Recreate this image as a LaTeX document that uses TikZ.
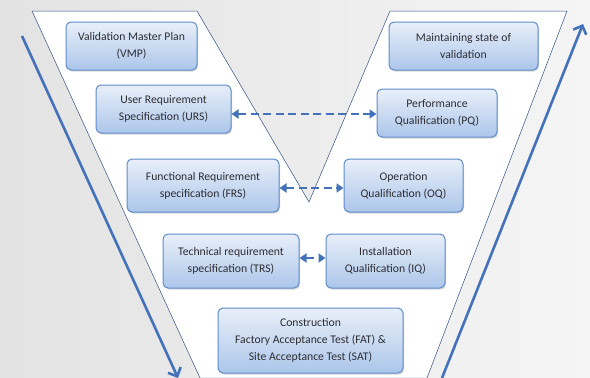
\documentclass[tikz,border=0pt]{standalone}
\usepackage{fontspec}
\setmainfont{Carlito}
\usetikzlibrary{arrows.meta,shadows}

\definecolor{vblue}{RGB}{68,114,186}
\definecolor{boxline}{RGB}{95,140,200}
\definecolor{boxtop}{RGB}{232,239,249}
\definecolor{boxbot}{RGB}{172,198,234}
\definecolor{vtext}{RGB}{45,45,50}

\tikzset{
  stage/.style={draw=boxline, line width=1pt, rounded corners=5pt,
    top color=boxtop, bottom color=boxbot, align=center,
    text=vtext, font=\fontsize{11.7}{17}\selectfont, inner sep=1pt,
    drop shadow={shadow xshift=1pt, shadow yshift=-1.5pt, opacity=0.3}},
  linkarrow/.style={draw=vblue, line width=2.6pt, dash pattern=on 8pt off 4.5pt,
    {Triangle[length=7pt,width=9pt]}-{Triangle[length=7pt,width=9pt]}},
  flowarrow/.style={draw=vblue, line width=2.6pt,
    -{Straight Barb[length=7pt,width=14pt,line width=2.6pt]}}
}

\begin{document}
\begin{tikzpicture}[x=1pt,y=-1pt]
        \useasboundingbox (0,0) rectangle (590,378);
        \fill[left color=gray!22, right color=gray!8] (0,0) rectangle (590,378);
        % V frame
        \draw[fill=white, draw=vblue!70!black, line width=0.5pt]
            (32,11) -- (197,11) -- (309,202) -- (390,11) -- (567,11)
            -- (427,378) -- (200,378) -- cycle;
        % side arrows
        \coordinate (dn0) at (22,36);
        \coordinate (dn1) at (178,378);
        \coordinate (up0) at (442,378);
        \coordinate (up1) at (583,24);
        \draw[flowarrow] (dn0) -- (dn1);
        \draw[flowarrow] (up0) -- (up1);
        % stages
        \node[stage, minimum width=131, minimum height=48] (vmp) at (131.5,46) {Validation Master Plan\\(VMP)};
        \node[stage, minimum width=135, minimum height=48] (urs) at (163.5,109) {User Requirement\\Specification (URS)};
        \node[stage, minimum width=152, minimum height=53] (frs) at (203,185.5) {Functional Requirement\\specification (FRS)};
        \node[stage, minimum width=136, minimum height=54] (trs) at (231,261) {Technical requirement\\specification (TRS)};
        \node[stage, minimum width=185, minimum height=65] (cons) at (310.5,340.5) {Construction\\Factory Acceptance Test (FAT) \&\\Site Acceptance Test (SAT)};
        \node[stage, minimum width=119, minimum height=54] (iq) at (385.5,261) {Installation\\Qualification (IQ)};
        \node[stage, minimum width=119, minimum height=53] (oq) at (403.5,185.5) {Operation\\Qualification (OQ)};
        \node[stage, minimum width=120, minimum height=48] (pq) at (437,113) {Performance\\Qualification (PQ)};
        \node[stage, minimum width=149, minimum height=48] (msv) at (463.5,46) {Maintaining state of\\validation};
        % links
        \draw[linkarrow] ([yshift=-5pt]urs.east) -- ([yshift=-5pt]urs.east -| pq.west);
        \draw[linkarrow] ([yshift=-2.5pt]frs.east) -- ([yshift=-2.5pt]frs.east -| oq.west);
        \draw[linkarrow] ([yshift=3pt]trs.east) -- ([yshift=3pt]trs.east -| iq.west);
    \end{tikzpicture}
\end{document}
